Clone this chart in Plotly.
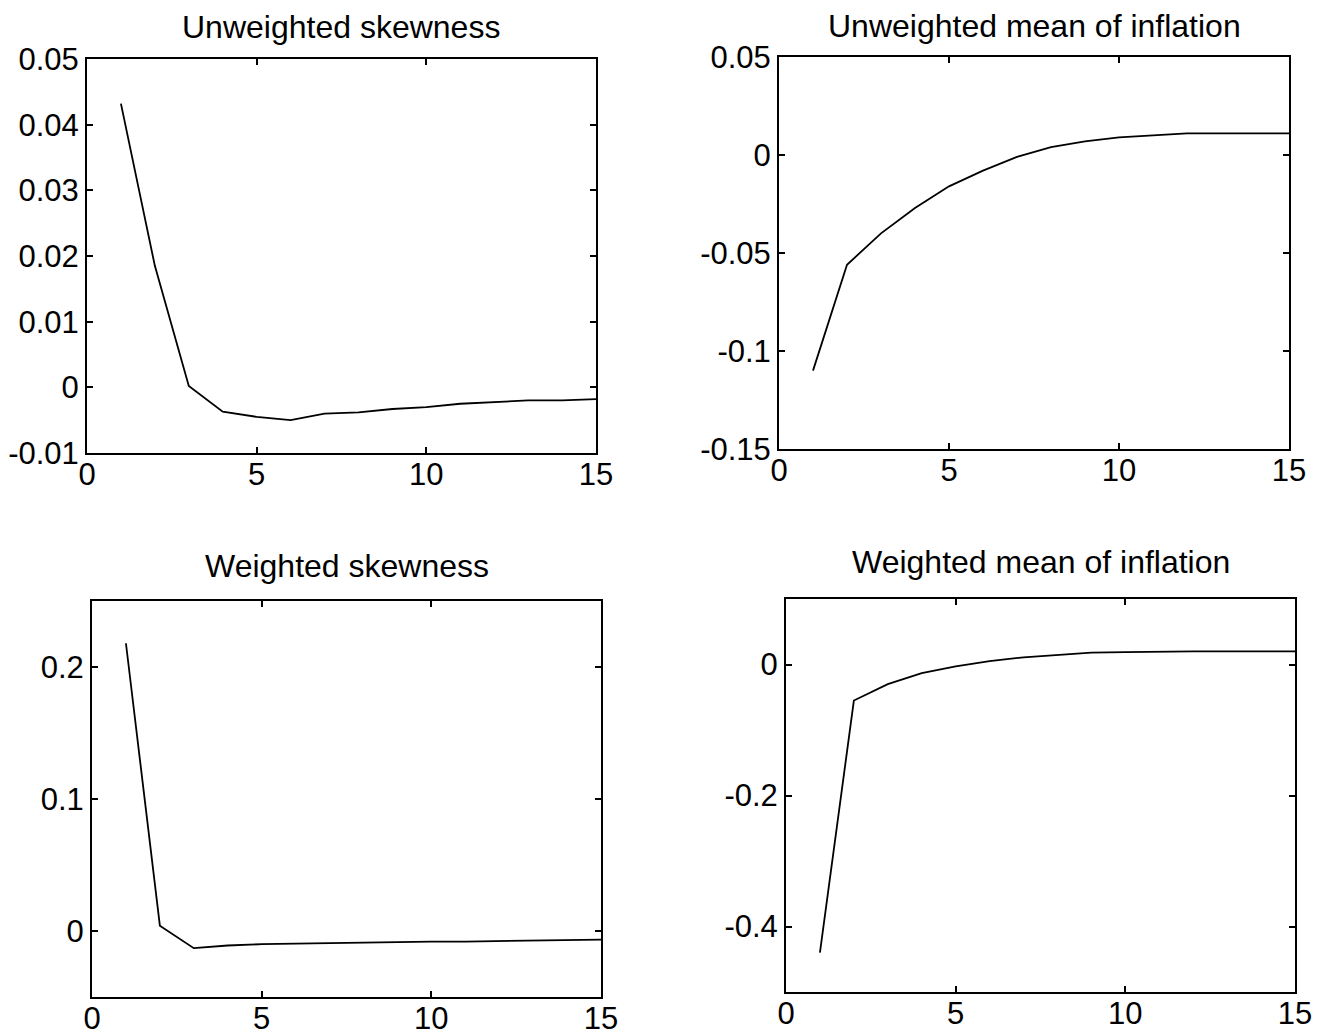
import plotly.graph_objects as go

periods = list(range(1, 16))

unweighted_skewness = [0.0432, 0.0185, 0.0002, -0.0037, -0.0045, -0.0050, -0.0040, -0.0038,
                       -0.0033, -0.0030, -0.0025, -0.0022, -0.0020, -0.0020, -0.0018]
unweighted_mean = [-0.110, -0.056, -0.040, -0.027, -0.016, -0.008, -0.001, 0.004,
                   0.007, 0.009, 0.010, 0.011, 0.011, 0.011, 0.011]
weighted_skewness = [0.218, 0.004, -0.013, -0.011, -0.010, -0.0095, -0.009, -0.009,
                     -0.0085, -0.008, -0.008, -0.0075, -0.007, -0.007, -0.0065]
weighted_mean = [-0.440, -0.055, -0.030, -0.013, -0.003, 0.005, 0.011, 0.015,
                 0.018, 0.019, 0.020, 0.020, 0.020, 0.020, 0.020]

titles = ["Unweighted skewness", "Unweighted mean of inflation",
          "Weighted skewness", "Weighted mean of inflation"]

x_ticks = [0, 5, 10, 15]
y_ticks_1 = [-0.01, 0, 0.01, 0.02, 0.03, 0.04, 0.05]
y_text_1 = ["-0.01", "0", "0.01", "0.02", "0.03", "0.04", "0.05"]
y_ticks_2 = [-0.15, -0.1, -0.05, 0, 0.05]
y_text_2 = ["-0.15", "-0.1", "-0.05", "0", "0.05"]
y_ticks_3 = [0, 0.1, 0.2]
y_text_3 = ["0", "0.1", "0.2"]
y_ticks_4 = [-0.4, -0.2, 0]
y_text_4 = ["-0.4", "-0.2", "0"]

series = [unweighted_skewness, unweighted_mean, weighted_skewness, weighted_mean]
y_ranges = [[-0.01, 0.05], [-0.15, 0.05], [-0.05, 0.25], [-0.5, 0.1]]
y_tick_sets = [(y_ticks_1, y_text_1), (y_ticks_2, y_text_2), (y_ticks_3, y_text_3), (y_ticks_4, y_text_4)]

# page has an 8px body margin; figure is sized to fill the rest of the window
OFF = 8
W, H = 1328 - OFF, 1035 - OFF
# pixel boxes in page coords: left, right, top, bottom
boxes = [(87, 596, 59, 453), (779, 1289, 57, 449), (92, 601, 601, 997), (786, 1295, 599, 992)]
title_y = [27, 26, 566, 562]

fig = go.Figure()
font_family = "Liberation Sans, Arial, sans-serif"
layout = dict(template="none", width=W, height=H, margin=dict(l=0, r=0, t=0, b=0, pad=0),
              paper_bgcolor="white", plot_bgcolor="white", showlegend=False,
              font=dict(family=font_family, color="black", size=31))
annotations = []
for i, (vals, yr, (tv, tt), box) in enumerate(zip(series, y_ranges, y_tick_sets, boxes)):
    n = i + 1
    xa = "x" if n == 1 else f"x{n}"
    ya = "y" if n == 1 else f"y{n}"
    fig.add_trace(go.Scatter(x=periods, y=vals, mode="lines", xaxis=xa, yaxis=ya,
                             line=dict(color="black", width=1.8)))
    l, r, t, b = [v - OFF for v in box]
    common = dict(showline=True, linecolor="black", linewidth=2, mirror="ticks",
                  ticks="inside", ticklen=6, tickwidth=1.5, tickcolor="black", showgrid=False,
                  zeroline=False, automargin=False,
                  tickfont=dict(size=31, family=font_family, color="black"))
    layout["xaxis" if n == 1 else f"xaxis{n}"] = dict(
        domain=[l / W, r / W], range=[0, 15], tickvals=x_ticks,
        anchor=ya, ticklabelstandoff=-7, **common)
    layout["yaxis" if n == 1 else f"yaxis{n}"] = dict(
        domain=[1 - b / H, 1 - t / H], range=yr, tickvals=tv, ticktext=tt,
        anchor=xa, **common)
    annotations.append(dict(text=titles[i], x=(l + r) / 2 / W, y=1 - (title_y[i] - OFF) / H,
                            xref="paper", yref="paper", xanchor="center", yanchor="middle",
                            borderpad=0,
                            showarrow=False, font=dict(size=32, family=font_family, color="black")))
layout["annotations"] = annotations
fig.update_layout(**layout)
fig.write_html("out.html")
